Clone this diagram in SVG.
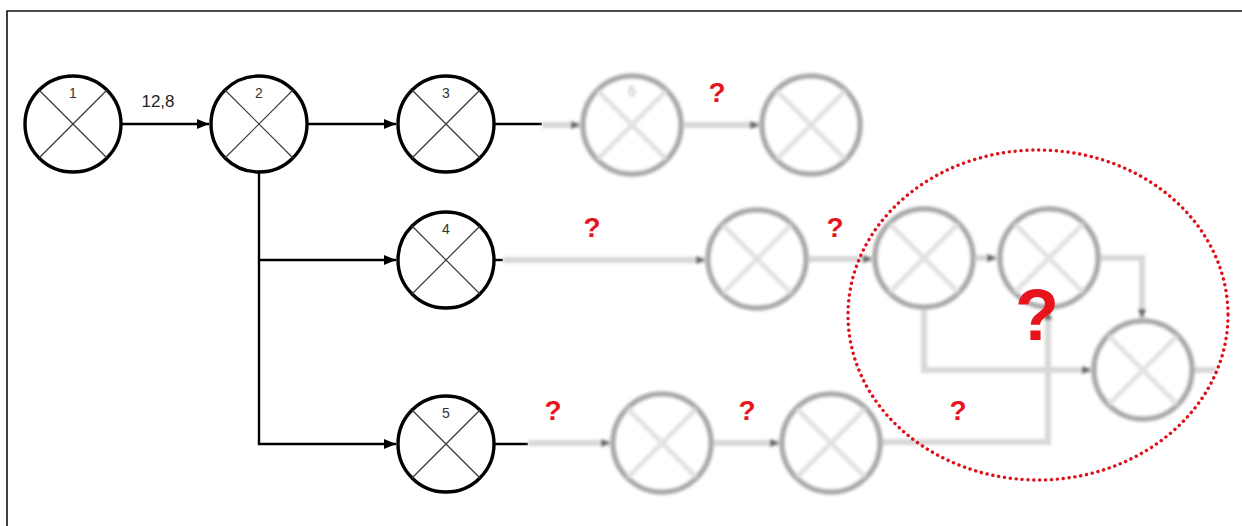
<svg xmlns="http://www.w3.org/2000/svg" width="1242" height="526" viewBox="0 0 1242 526">
  <style>
    .node { fill: #ffffff; stroke: #000000; stroke-width: 3.4; }
    .cross { stroke: #3a3a3a; stroke-width: 1.2; }
    .num { font-family: "Liberation Sans", Arial, sans-serif; font-size: 14px; fill: #333333; text-anchor: middle; }
    .edge { fill: none; stroke: #000000; stroke-width: 2.4; }
    .lbl { font-family: "Liberation Sans", Arial, sans-serif; font-size: 17px; fill: #222222; text-anchor: middle; }
    .gnode { fill: #ffffff; stroke: #a9a9a9; stroke-width: 5.5; }
    .gcross { stroke: #e2e2e2; stroke-width: 5; }
    .gedge { fill: none; stroke: #d8d8d8; stroke-width: 6; }
    .q { font-family: "Liberation Sans", Arial, sans-serif; font-weight: bold; fill: #e8141c; text-anchor: middle; }
  </style>
  <defs>
    <marker id="arrow" viewBox="0 0 12 10" refX="12" refY="5" markerWidth="12" markerHeight="10" markerUnits="userSpaceOnUse" orient="auto">
      <path d="M0,0 L12,5 L0,10 Z" fill="#000000"/>
    </marker>
    <marker id="garrow" viewBox="0 0 10 10" refX="10" refY="5" markerWidth="10" markerHeight="10" markerUnits="userSpaceOnUse" orient="auto">
      <path d="M0,1 L10,5 L0,9 Z" fill="#606060"/>
    </marker>
    <filter id="soft" x="-10%" y="-10%" width="120%" height="120%">
      <feGaussianBlur stdDeviation="1.6"/>
    </filter>
  </defs>

  <rect width="1242" height="526" fill="#ffffff"/>
  <!-- frame -->
  <path d="M7,526 L7,11 L1242,11" fill="none" stroke="#111111" stroke-width="1.6"/>

  <!-- connectors -->
  <g id="connectors">
    <line class="edge" x1="122" y1="124" x2="209" y2="124" marker-end="url(#arrow)"/>
    <line class="edge" x1="308" y1="124" x2="396" y2="124" marker-end="url(#arrow)"/>
    <path class="edge" d="M259,173 L259,444 L396,444" marker-end="url(#arrow)"/>
    <line class="edge" x1="259" y1="260" x2="396" y2="260" marker-end="url(#arrow)"/>
    <line class="edge" x1="495" y1="124" x2="542" y2="124"/>
    <line class="edge" x1="495" y1="260" x2="503" y2="260"/>
    <line class="edge" x1="495" y1="444" x2="528" y2="444"/>
    <g filter="url(#soft)">
      <line class="gedge" x1="542" y1="125" x2="581" y2="125" marker-end="url(#garrow)"/>
      <line class="gedge" x1="683" y1="125" x2="760" y2="125" marker-end="url(#garrow)"/>
      <line class="gedge" x1="503" y1="260" x2="706" y2="260" marker-end="url(#garrow)"/>
      <line class="gedge" x1="808" y1="259" x2="873" y2="259" marker-end="url(#garrow)"/>
      <line class="gedge" x1="975" y1="258" x2="997" y2="258" marker-end="url(#garrow)"/>
      <path class="gedge" d="M1100,258 L1142,258 L1142,319" marker-end="url(#garrow)"/>
      <path class="gedge" d="M924,309 L924,370 L1092,370" marker-end="url(#garrow)"/>
      <path class="gedge" d="M881,442 L1048,442 L1048,310" marker-end="url(#garrow)"/>
      <line class="gedge" x1="528" y1="443" x2="611" y2="443" marker-end="url(#garrow)"/>
      <line class="gedge" x1="713" y1="443" x2="780" y2="443" marker-end="url(#garrow)"/>
      <line class="gedge" x1="1193" y1="370" x2="1216" y2="370"/>
    </g>
    <text class="lbl" x="158" y="107">12,8</text>
  </g>

  <!-- sharp nodes -->
  <g id="node-1">
    <circle class="node" cx="73" cy="124" r="48"/>
    <line class="cross" x1="39" y1="90" x2="107" y2="158"/>
    <line class="cross" x1="107" y1="90" x2="39" y2="158"/>
    <text class="num" x="73" y="98">1</text>
  </g>
  <g id="node-2">
    <circle class="node" cx="259" cy="124" r="48"/>
    <line class="cross" x1="225" y1="90" x2="293" y2="158"/>
    <line class="cross" x1="293" y1="90" x2="225" y2="158"/>
    <text class="num" x="259" y="98">2</text>
  </g>
  <g id="node-3">
    <circle class="node" cx="446" cy="124" r="48"/>
    <line class="cross" x1="412" y1="90" x2="480" y2="158"/>
    <line class="cross" x1="480" y1="90" x2="412" y2="158"/>
    <text class="num" x="446" y="98">3</text>
  </g>
  <g id="node-4">
    <circle class="node" cx="446" cy="260" r="48"/>
    <line class="cross" x1="412" y1="226" x2="480" y2="294"/>
    <line class="cross" x1="480" y1="226" x2="412" y2="294"/>
    <text class="num" x="446" y="234">4</text>
  </g>
  <g id="node-5">
    <circle class="node" cx="446" cy="444" r="48"/>
    <line class="cross" x1="412" y1="410" x2="480" y2="478"/>
    <line class="cross" x1="480" y1="410" x2="412" y2="478"/>
    <text class="num" x="446" y="418">5</text>
  </g>

  <!-- unknown (faded) nodes -->
  <g id="node-6" filter="url(#soft)">
    <circle class="gnode" cx="632" cy="125" r="49"/>
    <line class="gcross" x1="598" y1="91" x2="666" y2="159"/>
    <line class="gcross" x1="666" y1="91" x2="598" y2="159"/>
    <text class="num" x="632" y="96" style="fill:#b0b0b0">6</text>
  </g>
  <g id="node-7" filter="url(#soft)">
    <circle class="gnode" cx="811" cy="125" r="49"/>
    <line class="gcross" x1="777" y1="91" x2="845" y2="159"/>
    <line class="gcross" x1="845" y1="91" x2="777" y2="159"/>
  </g>
  <g id="node-8" filter="url(#soft)">
    <circle class="gnode" cx="757" cy="259" r="49"/>
    <line class="gcross" x1="723" y1="225" x2="791" y2="293"/>
    <line class="gcross" x1="791" y1="225" x2="723" y2="293"/>
  </g>
  <g id="node-9" filter="url(#soft)">
    <circle class="gnode" cx="924" cy="258" r="49"/>
    <line class="gcross" x1="890" y1="224" x2="958" y2="292"/>
    <line class="gcross" x1="958" y1="224" x2="890" y2="292"/>
  </g>
  <g id="node-10" filter="url(#soft)">
    <circle class="gnode" cx="1049" cy="258" r="49"/>
    <line class="gcross" x1="1015" y1="224" x2="1083" y2="292"/>
    <line class="gcross" x1="1083" y1="224" x2="1015" y2="292"/>
  </g>
  <g id="node-11" filter="url(#soft)">
    <circle class="gnode" cx="1143" cy="370" r="49"/>
    <line class="gcross" x1="1109" y1="336" x2="1177" y2="404"/>
    <line class="gcross" x1="1177" y1="336" x2="1109" y2="404"/>
  </g>
  <g id="node-12" filter="url(#soft)">
    <circle class="gnode" cx="662" cy="443" r="49"/>
    <line class="gcross" x1="628" y1="409" x2="696" y2="477"/>
    <line class="gcross" x1="696" y1="409" x2="628" y2="477"/>
  </g>
  <g id="node-13" filter="url(#soft)">
    <circle class="gnode" cx="831" cy="443" r="49"/>
    <line class="gcross" x1="797" y1="409" x2="865" y2="477"/>
    <line class="gcross" x1="865" y1="409" x2="797" y2="477"/>
  </g>

  <!-- question marks -->
  <g id="questions">
    <text class="q" x="717" y="102" font-size="28">?</text>
    <text class="q" x="592" y="237" font-size="28">?</text>
    <text class="q" x="835" y="237" font-size="28">?</text>
    <text class="q" x="553" y="420" font-size="28">?</text>
    <text class="q" x="747" y="420" font-size="28">?</text>
    <text class="q" x="958" y="420" font-size="28">?</text>
    <text class="q" x="1037" y="340" font-size="72">?</text>
  </g>

  <!-- highlight -->
  <ellipse id="focus" cx="1038" cy="315" rx="190" ry="165" fill="none" stroke="#e01018" stroke-width="3.4" stroke-dasharray="0.1 5.8" stroke-linecap="round"/>
</svg>
